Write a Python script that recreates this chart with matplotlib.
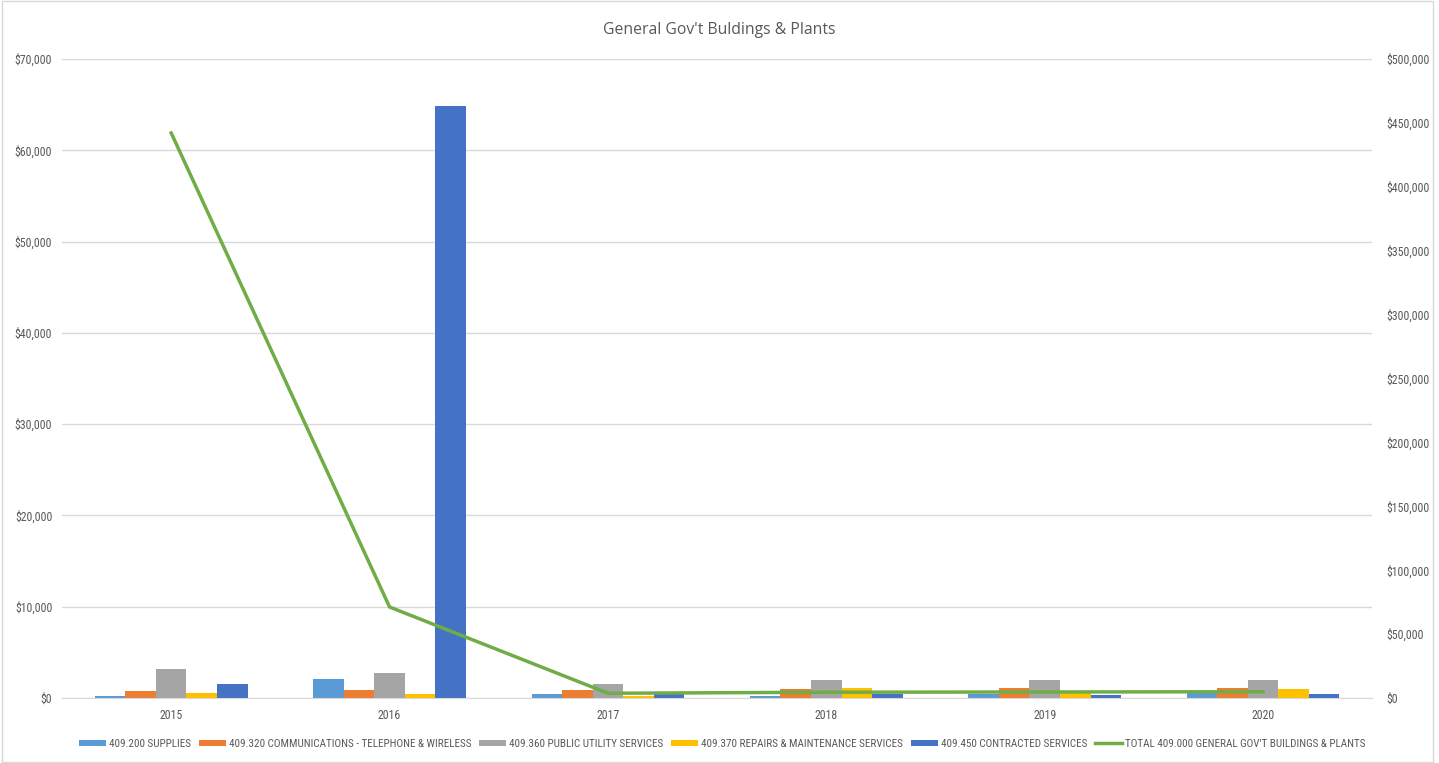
import matplotlib
matplotlib.use('Agg')
from matplotlib import pyplot as plt
from matplotlib import font_manager
from matplotlib.ticker import FuncFormatter, MultipleLocator
from matplotlib.patches import Rectangle
import numpy as np

years = ['2015', '2016', '2017', '2018', '2019', '2020']

supplies = [250, 2080, 470, 250, 440, 510]
communications = [800, 880, 910, 990, 1090, 1060]
public_utility = [3140, 2700, 1500, 1970, 1940, 1970]
repairs = [550, 470, 220, 1130, 520, 990]
contracted = [1500, 64850, 400, 470, 360, 400]
total = [442100, 71200, 3700, 4500, 4700, 4900]

series = [
    ('409.200 SUPPLIES', supplies, '#5B9BD5'),
    ('409.320 COMMUNICATIONS - TELEPHONE & WIRELESS', communications, '#ED7D31'),
    ('409.360 PUBLIC UTILITY SERVICES', public_utility, '#A5A5A5'),
    ('409.370 REPAIRS & MAINTENANCE SERVICES', repairs, '#FFC000'),
    ('409.450 CONTRACTED SERVICES', contracted, '#4472C4'),
]
total_label = "TOTAL 409.000 GENERAL GOV'T BUILDINGS & PLANTS"

txt = '#595959'
grid = '#D9D9D9'

# pick a condensed face for the small labels if one is around
installed = {f.name for f in font_manager.fontManager.ttflist}
narrow_name = None
for name in ['Liberation Sans Narrow', 'DejaVu Sans Condensed', 'Roboto Condensed']:
    if name in installed:
        narrow_name = name
        break
if narrow_name:
    narrow = [narrow_name, 'DejaVu Sans']
    leg_size = 8
else:
    narrow = ['Liberation Sans', 'DejaVu Sans']
    leg_size = 7

fig = plt.figure(figsize=(14.39, 7.63), dpi=100)
ax = fig.add_axes([0.0431, 0.0852, 0.9105, 0.8375])
ax2 = ax.twinx()

x = np.arange(len(years))
w = 0.14
handles = []
for i, (name, vals, col) in enumerate(series):
    b = ax.bar(x + (i - 2) * w, vals, w, color=col, label=name, zorder=2)
    handles.append(b)

ln, = ax2.plot(x, total, color='#70AD47', lw=2.5, label=total_label, zorder=3)
handles.append(ln)

ax.set_xlim(-0.5, len(years) - 0.5)
ax.set_ylim(0, 70000)
ax2.set_ylim(0, 500000)
ax.yaxis.set_major_locator(MultipleLocator(10000))
ax2.yaxis.set_major_locator(MultipleLocator(50000))
money = FuncFormatter(lambda v, p: '${:,.0f}'.format(v))
ax.yaxis.set_major_formatter(money)
ax2.yaxis.set_major_formatter(money)

ax.set_xticks(x)
ax.set_xticklabels(years)
ax.grid(axis='y', color=grid, lw=1, zorder=0)
ax.set_axisbelow(True)

for a in (ax, ax2):
    for s in ('top', 'left', 'right', 'bottom'):
        a.spines[s].set_visible(False)
    a.tick_params(length=0, labelsize=8.6, labelcolor=txt)
ax.spines['bottom'].set_visible(True)
ax.spines['bottom'].set_color(grid)
ax.tick_params(axis='x', pad=8)
ax.tick_params(axis='y', pad=7)
ax2.tick_params(axis='y', pad=10)
for lab in ax.get_xticklabels() + ax.get_yticklabels() + ax2.get_yticklabels():
    lab.set_family(narrow)

fig.text(0.5, 0.961, "General Gov't Buldings & Plants", ha='center', va='center',
         fontsize=11.3, color=txt, family=['Open Sans', 'DejaVu Sans'])

leg = fig.legend(handles=handles, loc='center', bbox_to_anchor=(0.502, 0.025), ncol=6,
                 frameon=False, handlelength=2.4, handleheight=0.5,
                 handletextpad=0.3, columnspacing=0.7,
                 prop={'family': narrow, 'size': leg_size})
for t in leg.get_texts():
    t.set_color(txt)

# light border around the whole chart
fig.patches.append(Rectangle((0.0015, 0.001), 0.9945, 0.998, transform=fig.transFigure,
                             fill=False, edgecolor=grid, lw=1))

fig.savefig('out.png', dpi=100)
